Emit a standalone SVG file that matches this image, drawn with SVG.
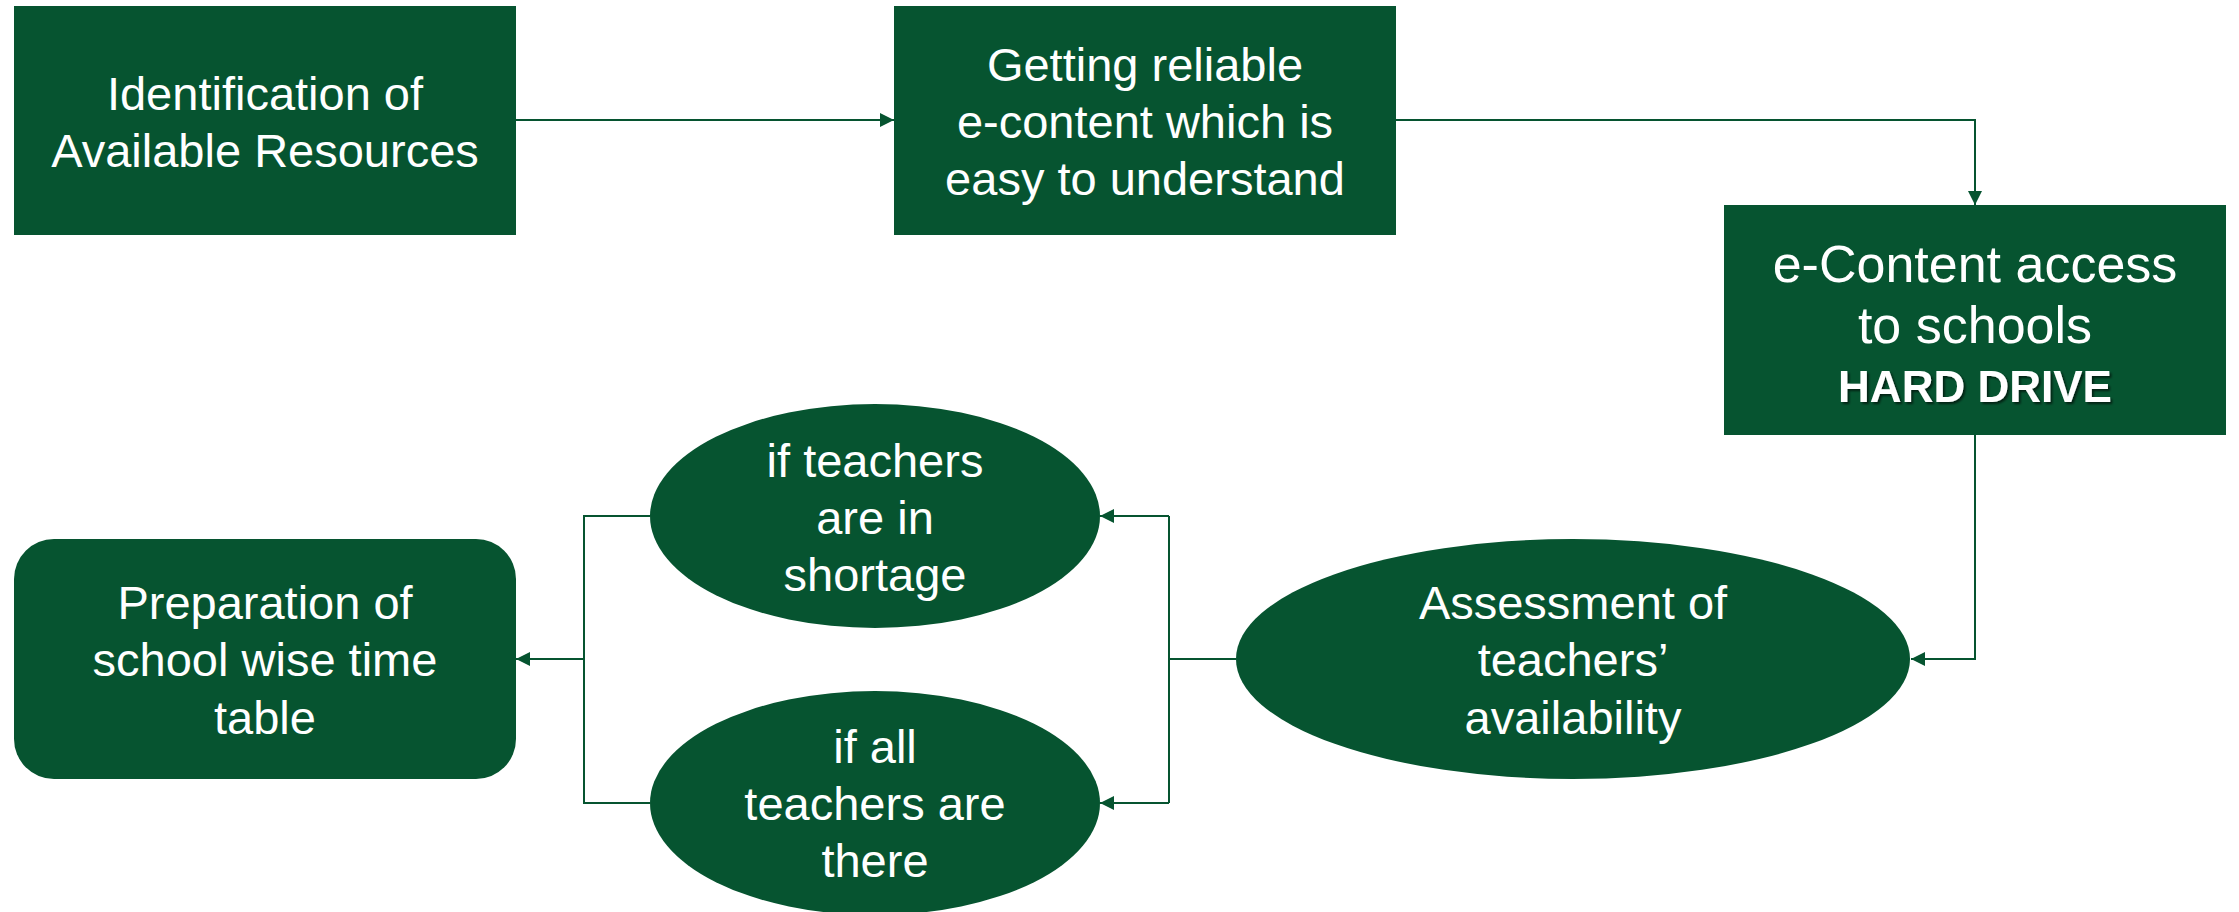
<svg xmlns="http://www.w3.org/2000/svg" width="2239" height="912" viewBox="0 0 2239 912">
  <defs>
    <style>
      .shape { fill: #065430; }
      .lbl { font-family: "Liberation Sans", Arial, sans-serif; font-size: 47px; fill: #ffffff; text-anchor: middle; }
      .big { font-size: 52px; }
      .bold { font-weight: bold; font-size: 44px; }
      .conn { fill: none; stroke: #065430; stroke-width: 2; }
    </style>
    <marker id="arrow" viewBox="0 0 14 14" refX="14" refY="7" markerWidth="14" markerHeight="14" markerUnits="userSpaceOnUse" orient="auto">
      <path d="M0,0 L14,7 L0,14 Z" fill="#065430"/>
    </marker>
    <filter id="shadow" x="-10%" y="-20%" width="130%" height="150%">
      <feDropShadow dx="2" dy="2" stdDeviation="1" flood-color="#000000" flood-opacity="0.6"/>
    </filter>
  </defs>
  <rect width="2239" height="912" fill="#ffffff"/>

  <g id="connectors">
    <path class="conn" d="M516,120 L894,120" marker-end="url(#arrow)"/>
    <path class="conn" d="M1396,120 L1975,120 L1975,205" marker-end="url(#arrow)"/>
    <path class="conn" d="M1975,435 L1975,659 L1911,659" marker-end="url(#arrow)"/>
    <path class="conn" d="M1236,659 L1169,659"/>
    <path class="conn" d="M1169,516 L1169,803"/>
    <path class="conn" d="M1169,516 L1100,516" marker-end="url(#arrow)"/>
    <path class="conn" d="M1169,803 L1100,803" marker-end="url(#arrow)"/>
    <path class="conn" d="M650,516 L584,516 L584,803 L650,803"/>
    <path class="conn" d="M584,659 L516,659" marker-end="url(#arrow)"/>
  </g>

  <g id="node-identification">
    <rect class="shape" x="14" y="6" width="502" height="229"/>
    <text class="lbl" x="265" y="110">Identification of</text>
    <text class="lbl" x="265" y="167">Available Resources</text>
  </g>

  <g id="node-getting">
    <rect class="shape" x="894" y="6" width="502" height="229"/>
    <text class="lbl" x="1145" y="81">Getting reliable</text>
    <text class="lbl" x="1145" y="138">e-content which is</text>
    <text class="lbl" x="1145" y="195">easy to understand</text>
  </g>

  <g id="node-econtent">
    <rect class="shape" x="1724" y="205" width="502" height="230"/>
    <text class="lbl big" x="1975" y="282">e-Content access</text>
    <text class="lbl big" x="1975" y="343">to schools</text>
    <text class="lbl bold" x="1975" y="402" filter="url(#shadow)">HARD DRIVE</text>
  </g>

  <g id="node-assessment">
    <ellipse class="shape" cx="1573" cy="659" rx="337" ry="120"/>
    <text class="lbl" x="1573" y="619">Assessment of</text>
    <text class="lbl" x="1573" y="676">teachers’</text>
    <text class="lbl" x="1573" y="734">availability</text>
  </g>

  <g id="node-shortage">
    <ellipse class="shape" cx="875" cy="516" rx="225" ry="112"/>
    <text class="lbl" x="875" y="477">if teachers</text>
    <text class="lbl" x="875" y="534">are in</text>
    <text class="lbl" x="875" y="591">shortage</text>
  </g>

  <g id="node-all-there">
    <ellipse class="shape" cx="875" cy="803" rx="225" ry="112"/>
    <text class="lbl" x="875" y="763">if all</text>
    <text class="lbl" x="875" y="820">teachers are</text>
    <text class="lbl" x="875" y="877">there</text>
  </g>

  <g id="node-timetable">
    <rect class="shape" x="14" y="539" width="502" height="240" rx="40" ry="40"/>
    <text class="lbl" x="265" y="619">Preparation of</text>
    <text class="lbl" x="265" y="676">school wise time</text>
    <text class="lbl" x="265" y="734">table</text>
  </g>
</svg>
